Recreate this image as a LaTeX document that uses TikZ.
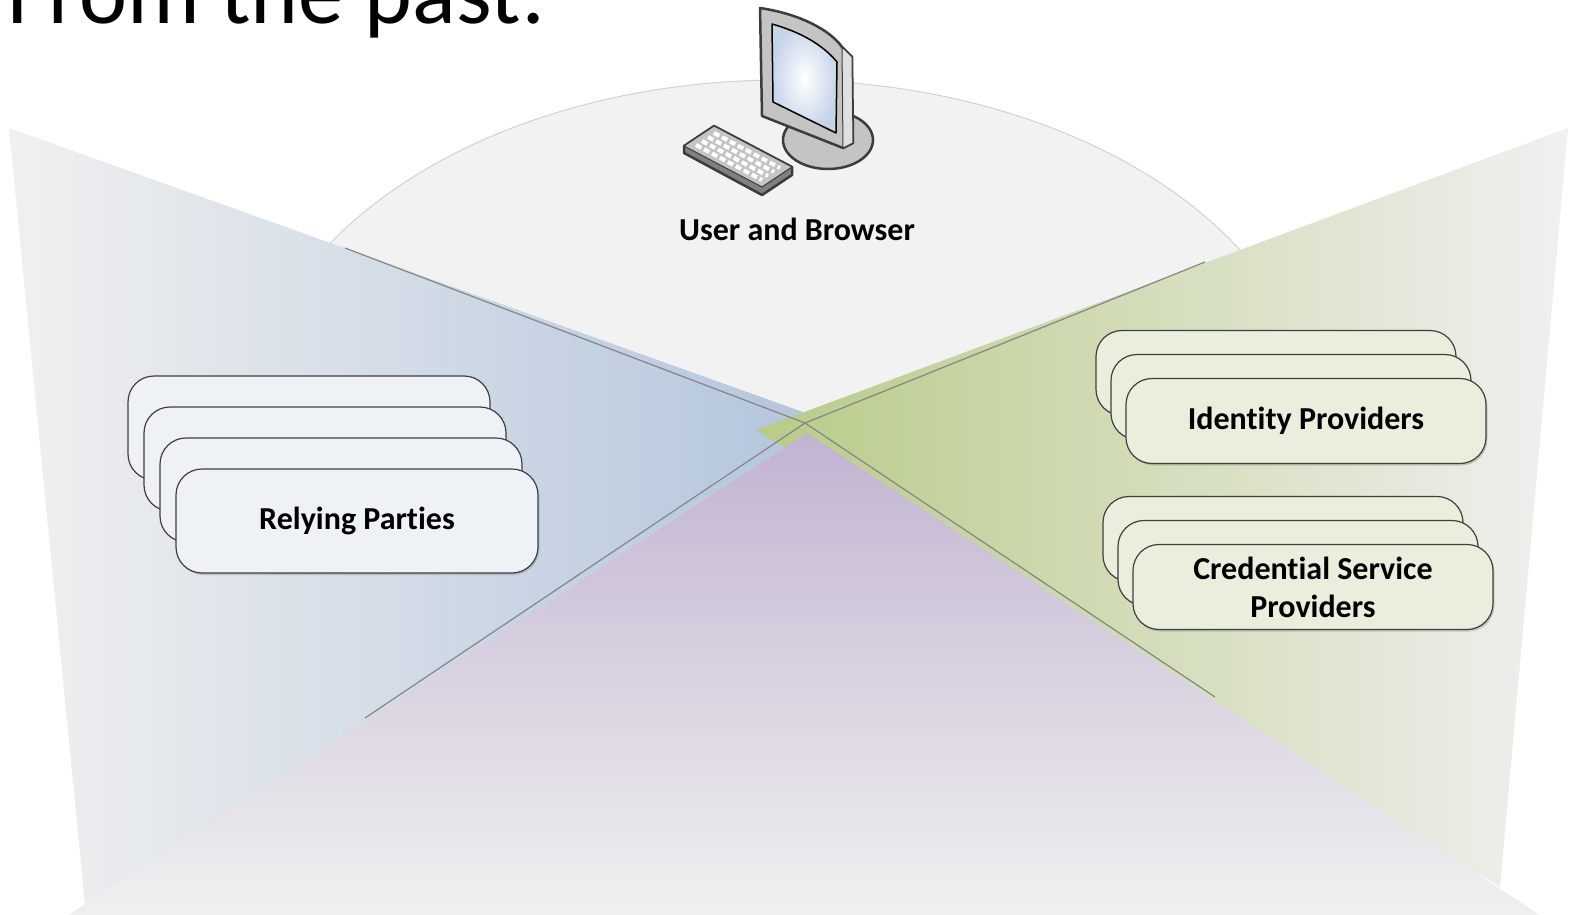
\documentclass[tikz,border=0pt]{standalone}
\usepackage{fontspec}
\setmainfont{Carlito}[Ligatures=NoCommon]
\usetikzlibrary{shadows}

\definecolor{domefill}{HTML}{F2F2F2}
\definecolor{domeline}{HTML}{D2D2D2}
\definecolor{fadegray}{HTML}{F0F0F0}
\definecolor{rpblue}{HTML}{B4C6DD}
\definecolor{idpgreen}{HTML}{B8CB88}
\definecolor{cspurple}{HTML}{C2B3D1}
\definecolor{rpfill}{HTML}{EEF1F6}
\definecolor{idpfill}{HTML}{EAEEDC}
\definecolor{boxline}{HTML}{3F3F3F}
\definecolor{edgegray}{HTML}{858585}
\definecolor{icondark}{HTML}{3C3C3C}
\definecolor{iconbody}{HTML}{C4C4C4}
\definecolor{iconside}{HTML}{E0E0E0}
\definecolor{screenblue}{HTML}{C6D4EA}

\newcommand{\titlefont}{\fontsize{91}{100}\selectfont}
\newcommand{\labelfont}{\bfseries\fontsize{32}{38}\selectfont}

\begin{document}
\begin{tikzpicture}[x=1pt, y=-1pt,
  stackbox/.style={draw=boxline, line width=1.2pt, rounded corners=26pt,
    inner sep=0pt, align=center, font=\labelfont},
  rpbox/.style={stackbox, fill=rpfill, minimum width=362pt, minimum height=104pt},
  idpbox/.style={stackbox, fill=idpfill, minimum width=360pt, minimum height=85pt},
  frontshadow/.style={drop shadow={shadow xshift=1.5pt, shadow yshift=-2pt, opacity=0.35}},
  edgeline/.style={draw=edgegray, line width=1.2pt},
  iconline/.style={draw=icondark, line width=2.5pt, line join=round}]
  \useasboundingbox (0,0) rectangle (1574,915);

  % dome behind the user
  \filldraw [fill=domefill, draw=domeline, line width=1pt] (782,430) ellipse [x radius=534, y radius=350];

  % the three fans
  \shade [left color=fadegray, right color=rpblue] (9,128) -- (803,412) -- (807,433) -- (85,905) -- cycle;
  \shade [left color=idpgreen, right color=fadegray] (756,430) -- (1568,128) -- (1500,887) -- cycle;
  \shade [top color=cspurple, bottom color=fadegray] (807,433) -- (1540,915) -- (68,915) -- cycle;

  \coordinate (hub) at (805,423);
  \coordinate (rptop) at (345,248);
  \coordinate (idptop) at (1205,262);
  \coordinate (rplow) at (365,718);
  \coordinate (csplow) at (1215,697);
  \draw [edgeline] (rptop) -- (hub) -- (csplow);
  \draw [edgeline] (idptop) -- (hub) -- (rplow);

  \node (title) at (7,24) [anchor=base west, inner sep=0pt, font=\titlefont] {From the past:};

  % computer
  \filldraw [iconline, fill=iconbody] (828,140) ellipse [x radius=45, y radius=29];
  \filldraw [iconline, fill=iconbody] (760,8) .. controls (800,14) and (830,30) .. (842,47)
    -- (852,57) -- (853,143) -- (843,148) -- (762,116) -- cycle;
  \filldraw [fill=iconside, draw=icondark, line width=1pt] (842,47) -- (852,57) -- (853,143) -- (843,148) -- cycle;
  \shade [inner color=white, outer color=screenblue] (772,24) .. controls (800,32) and (822,44) .. (837,62)
    -- (836,133) -- (773,102) -- cycle;
  \draw [draw=black, line width=1.5pt, line join=round] (772,24) .. controls (800,32) and (822,44) .. (837,62)
    -- (836,133) -- (773,102) -- cycle;
  \filldraw [iconline, fill=gray] (684,146) -- (714,126) -- (792,167) -- (792,175) -- (762,195) -- (684,153) -- cycle;
  \filldraw [fill=iconbody, draw=icondark, line width=1pt] (684,146) -- (714,126) -- (792,167) -- (762,187) -- cycle;
  \draw [white, line width=4pt, dash pattern=on 6pt off 3pt] (696,145) -- (762,180);
  \draw [white, line width=4pt, dash pattern=on 6pt off 3pt] (702,141) -- (768,176);
  \draw [white, line width=4pt, dash pattern=on 6pt off 3pt] (708,137) -- (774,172);
  \draw [white, line width=4pt, dash pattern=on 6pt off 3pt] (714,133) -- (780,168);
  \node (user) at (797,240) [anchor=base, font=\labelfont] {User and Browser};

  % relying parties
  \node (rp1) at (309,428) [rpbox] {};
  \node (rp2) at (325,459) [rpbox] {};
  \node (rp3) at (341,490) [rpbox] {};
  \node (rp4) at (357,521) [rpbox, frontshadow] {Relying Parties};

  % identity providers
  \node (idp1) at (1276,373) [idpbox] {};
  \node (idp2) at (1291,397) [idpbox] {};
  \node (idp3) at (1306,421) [idpbox, frontshadow] {Identity Providers};

  % credential service providers
  \node (csp1) at (1283,539) [idpbox] {};
  \node (csp2) at (1298,563) [idpbox] {};
  \node (csp3) at (1313,587) [idpbox, frontshadow] {Credential Service\\Providers};
\end{tikzpicture}
\end{document}
